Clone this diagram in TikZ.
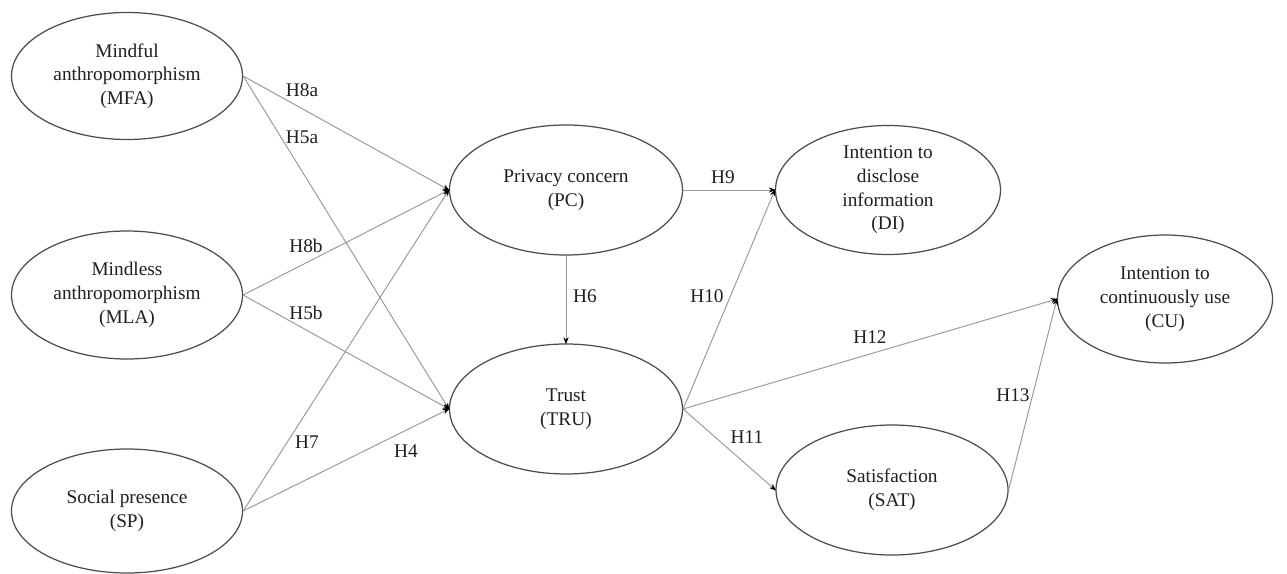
\documentclass[tikz,border=0pt]{standalone}
\usepackage{fontspec}
\setmainfont{Liberation Serif}
\usetikzlibrary{shapes.geometric,arrows.meta}
\begin{document}
\begin{tikzpicture}[x=0.02cm,y=-0.02cm,
  ell/.style={ellipse,draw=black!70,line width=0.7pt,inner sep=0pt},
  txt/.style={align=center,font=\fontsize{11}{13.5}\selectfont,text=black!88,inner sep=0pt},
  hyp/.style={font=\fontsize{11}{12}\selectfont,text=black!88,inner sep=0pt},
  conn/.style={draw=black!40,line width=0.55pt,-{Stealth[length=4pt,width=3pt,color=black]},shorten >=-0.5pt}]
\useasboundingbox (0,0) rectangle (1287,574);
% constructs
\node[ell,minimum width=231*0.02cm,minimum height=127*0.02cm,label={[txt]center:Mindful\\anthropomorphism\\(MFA)}] (mfa) at (127,76) {};
\node[ell,minimum width=231*0.02cm,minimum height=128*0.02cm,label={[txt]center:Mindless\\anthropomorphism\\(MLA)}] (mla) at (127,295) {};
\node[ell,minimum width=231*0.02cm,minimum height=124*0.02cm,label={[txt]center:Social presence\\(SP)}] (sp) at (127,511) {};
\node[ell,minimum width=233*0.02cm,minimum height=130*0.02cm,label={[txt]center:Privacy concern\\(PC)}] (pc) at (566,190) {};
\node[ell,minimum width=233*0.02cm,minimum height=130*0.02cm,label={[txt]center:Trust\\(TRU)}] (tru) at (566,409) {};
\node[ell,minimum width=225*0.02cm,minimum height=129*0.02cm,label={[txt]center:Intention to\\disclose\\information\\(DI)}] (di) at (888,190) {};
\node[ell,minimum width=215*0.02cm,minimum height=128*0.02cm,label={[txt]center:Intention to\\continuously use\\(CU)}] (cu) at (1165,299) {};
\node[ell,minimum width=232*0.02cm,minimum height=130*0.02cm,label={[txt]center:Satisfaction\\(SAT)}] (sat) at (892,490) {};
% connectors
\draw[conn] (mfa.east) -- (pc.west);
\draw[conn] (mfa.east) -- (tru.west);
\draw[conn] (mla.east) -- (pc.west);
\draw[conn] (mla.east) -- (tru.west);
\draw[conn] (sp.east) -- (pc.west);
\draw[conn] (sp.east) -- (tru.west);
\draw[conn] (pc.south) -- (tru.north);
\draw[conn] (pc.east) -- (di.west);
\draw[conn] (tru.east) -- (di.west);
\draw[conn] (tru.east) -- (cu.west);
\draw[conn] (tru.east) -- (sat.west);
\draw[conn] (sat.east) -- (cu.west);
% hypothesis labels
\node[hyp] (h8a) at (302,90) {H8a};
\node[hyp] (h5a) at (302,137) {H5a};
\node[hyp] (h8b) at (306,246) {H8b};
\node[hyp] (h5b) at (306,313) {H5b};
\node[hyp] (h7) at (307,442) {H7};
\node[hyp] (h4) at (406,451) {H4};
\node[hyp] (h9) at (723,177) {H9};
\node[hyp] (h6) at (585,296) {H6};
\node[hyp] (h10) at (707,296) {H10};
\node[hyp] (h11) at (747,437) {H11};
\node[hyp] (h12) at (870,337) {H12};
\node[hyp] (h13) at (1013,395) {H13};
\end{tikzpicture}
\end{document}
